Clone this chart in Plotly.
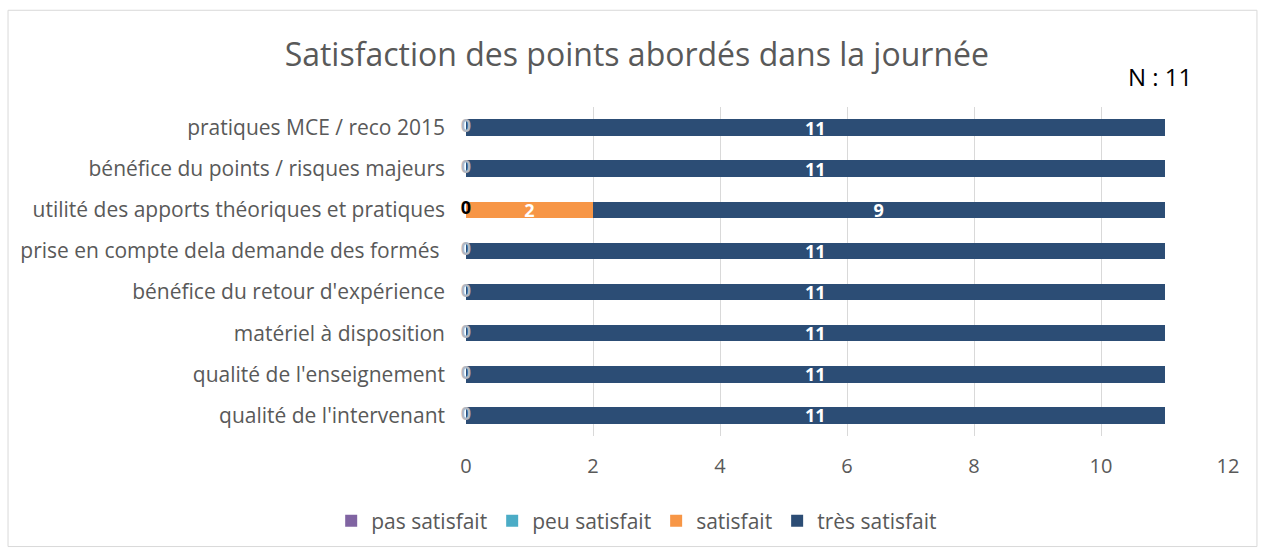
import plotly.graph_objects as go

categories = [
    "pratiques MCE / reco 2015",
    "bénéfice du points / risques majeurs",
    "utilité des apports théoriques et pratiques",
    "prise en compte dela demande des formés ",
    "bénéfice du retour d'expérience",
    "matériel à disposition",
    "qualité de l'enseignement",
    "qualité de l'intervenant",
]
pas_satisfait = [0, 0, 0, 0, 0, 0, 0, 0]
peu_satisfait = [0, 0, 0, 0, 0, 0, 0, 0]
satisfait = [0, 0, 2, 0, 0, 0, 0, 0]
tres_satisfait = [11, 11, 9, 11, 11, 11, 11, 11]
x_ticks = [0, 2, 4, 6, 8, 10, 12]

series = [
    ("pas satisfait", pas_satisfait, "#8064A2"),
    ("peu satisfait", peu_satisfait, "#4BACC6"),
    ("satisfait", satisfait, "#F79646"),
    ("très satisfait", tres_satisfait, "#2C4D75"),
]

FONT = "Open Sans, Noto Sans, sans-serif"
GRAY = "#595959"

fig = go.Figure()
for name, vals, col in series:
    fig.add_trace(go.Bar(
        y=categories, x=vals, name=name, orientation="h",
        marker=dict(color=col, line=dict(width=0)),
        text=[str(v) if v > 0 else "" for v in vals],
        textposition="inside", insidetextanchor="middle",
        textangle=0, constraintext="none",
        textfont=dict(color="white", size=18, family=FONT, weight="bold"),
        hoverinfo="x+y+name",
    ))

# zero labels of the empty segments
zero_colors = ["#000000" if s > 0 else "#B0B8C4" for s in satisfait]
fig.add_trace(go.Scatter(
    y=categories, x=pas_satisfait, mode="text",
    text=[str(v) for v in pas_satisfait],
    textposition="middle center",
    textfont=dict(color=zero_colors, size=18, family=FONT, weight="bold"),
    showlegend=False, hoverinfo="skip", cliponaxis=False,
))

fig.update_layout(
    width=1266, height=552,
    barmode="stack", bargap=0.6,
    paper_bgcolor="white", plot_bgcolor="white",
    margin=dict(l=466, r=38, t=107, b=115),
    font=dict(family=FONT, color=GRAY, size=20),
    title=dict(text="Satisfaction des points abordés dans la journée",
               x=0.503, xref="container", xanchor="center",
               y=0.9, yref="container", yanchor="middle",
               font=dict(size=32, color=GRAY, family=FONT)),
    xaxis=dict(range=[0, 12], tickvals=x_ticks, showgrid=True,
               gridcolor="#D9D9D9", gridwidth=1, zeroline=False,
               showline=False, ticks="", ticklabelstandoff=16,
               tickfont=dict(size=20, color=GRAY)),
    yaxis=dict(autorange="reversed", showgrid=False, showline=False,
               ticks="", ticklabelstandoff=20,
               tickfont=dict(size=21, color=GRAY)),
    legend=dict(orientation="h", x=0.224, xanchor="center", y=-0.255,
                yanchor="middle", font=dict(size=21, color=GRAY),
                traceorder="normal", itemwidth=30),
    annotations=[dict(text="N : 11", x=0.911, y=1.094, xref="paper", yref="paper",
                      xanchor="center", yanchor="middle",
                      showarrow=False, font=dict(size=24, color="#000000", family=FONT))],
    shapes=[dict(type="rect", xref="paper", yref="paper",
                 x0=-0.601, x1=1.038, y0=-0.336, y1=1.294,
                 line=dict(color="#D9D9D9", width=1))],
)

fig.write_html("out.html", config={"displayModeBar": False},
               post_script="document.body.style.margin='0';")
